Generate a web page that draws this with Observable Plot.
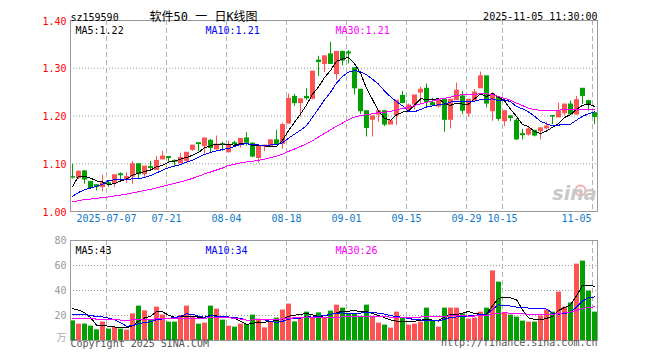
<!DOCTYPE html>
<html><head><meta charset="utf-8">
<script src="https://cdn.jsdelivr.net/npm/d3@7"></script>
<script src="https://cdn.jsdelivr.net/npm/@observablehq/plot@0.6"></script>
<style>
body{margin:0;background:#fff;}
#chart{width:660px;height:360px;overflow:hidden;background:#fff}
#chart svg{display:block}
</style></head><body><div id="chart"></div>
<script>
// ---- data ----
const symbol = "sz159590";
const title = "软件50 一 日K线图";
const stamp = "2025-11-05 11:30:00";
const tickIndex = [6, 16, 26, 36, 46, 56, 66, 72, 87];
const tickLabels = ["2025-07-07", "07-21", "08-04", "08-18", "09-01", "09-15", "09-29", "10-15", "11-05"];
const priceTicks = [1.0, 1.1, 1.2, 1.3, 1.4];
const volumeTicks = [20, 40, 60, 80];
const volumeUnit = "万";

const opens = [
1.072,1.070,1.084,1.062,1.055,1.051,1.059,1.059,1.078,1.066,
1.073,1.099,1.078,1.093,1.087,1.109,1.114,1.106,1.101,1.106,
1.129,1.143,1.137,1.148,1.130,1.141,1.124,1.143,1.139,1.153,
1.142,1.112,1.136,1.137,1.149,1.142,1.184,1.240,1.227,1.240,
1.236,1.316,1.309,1.329,1.288,1.334,1.333,1.300,1.255,1.210,
1.192,1.203,1.210,1.182,1.201,1.242,1.213,1.224,1.249,1.257,
1.227,1.220,1.234,1.192,1.233,1.241,1.205,1.232,1.258,1.283,
1.210,1.238,1.189,1.199,1.190,1.162,1.161,1.169,1.168,1.174,
1.200,1.197,1.206,1.224,1.203,1.257,1.231,1.206];
const closes = [
1.071,1.083,1.067,1.049,1.051,1.059,1.057,1.076,1.076,1.072,
1.099,1.078,1.094,1.091,1.106,1.115,1.112,1.104,1.112,1.123,
1.138,1.141,1.153,1.133,1.140,1.140,1.139,1.141,1.152,1.144,
1.115,1.137,1.138,1.149,1.141,1.181,1.236,1.227,1.235,1.237,
1.293,1.313,1.325,1.309,1.334,1.316,1.331,1.258,1.210,1.175,
1.199,1.210,1.182,1.189,1.232,1.227,1.222,1.243,1.255,1.229,
1.222,1.234,1.192,1.234,1.253,1.211,1.234,1.249,1.283,1.226,
1.245,1.194,1.210,1.196,1.151,1.160,1.172,1.159,1.174,1.178,
1.199,1.210,1.224,1.203,1.233,1.242,1.224,1.198];
const highs = [
1.099,1.086,1.085,1.062,1.056,1.076,1.064,1.076,1.081,1.081,
1.105,1.099,1.094,1.105,1.115,1.126,1.115,1.108,1.122,1.123,
1.138,1.143,1.153,1.151,1.158,1.145,1.147,1.147,1.153,1.165,
1.144,1.137,1.139,1.150,1.170,1.185,1.246,1.245,1.235,1.257,
1.293,1.325,1.325,1.354,1.334,1.336,1.337,1.300,1.255,1.210,
1.199,1.210,1.210,1.189,1.232,1.251,1.225,1.243,1.260,1.267,
1.237,1.234,1.234,1.234,1.269,1.251,1.234,1.255,1.292,1.283,
1.248,1.240,1.210,1.201,1.194,1.172,1.177,1.169,1.175,1.187,
1.201,1.227,1.224,1.231,1.241,1.257,1.233,1.206];
const lows = [
1.068,1.067,1.057,1.048,1.043,1.041,1.051,1.050,1.067,1.059,
1.057,1.069,1.071,1.085,1.087,1.109,1.103,1.094,1.101,1.102,
1.126,1.125,1.120,1.123,1.130,1.126,1.123,1.135,1.133,1.137,
1.113,1.101,1.125,1.136,1.141,1.130,1.184,1.220,1.198,1.233,
1.234,1.283,1.291,1.308,1.275,1.305,1.309,1.244,1.203,1.156,
1.156,1.187,1.178,1.182,1.180,1.226,1.210,1.213,1.225,1.217,
1.222,1.217,1.166,1.173,1.233,1.203,1.197,1.232,1.258,1.217,
1.189,1.189,1.178,1.188,1.149,1.150,1.158,1.156,1.150,1.171,
1.182,1.197,1.200,1.201,1.203,1.224,1.210,1.182];
const volumes = [
15.7,13.1,13.1,11.5,8.5,14.7,9.1,10.4,9.1,8.3,
21.3,27.5,23.7,16.3,26.7,20.3,14.7,14.7,20.0,27.5,
18.4,13.1,13.9,27.5,25.1,16.3,11.5,10.7,13.1,12.8,
20.3,17.1,10.1,15.2,17.9,24.3,29.1,14.9,17.9,22.7,
18.1,22.1,18.1,23.5,28.3,25.9,21.1,21.6,18.4,28.3,
18.4,13.9,12.3,9.9,22.7,18.4,12.3,13.1,14.7,25.9,
15.5,10.7,25.9,25.9,25.9,21.3,17.1,17.9,22.7,25.9,
55.7,46.7,21.6,20.3,18.7,15.5,14.7,14.7,19.5,24.3,
22.7,38.7,26.7,30.0,61.1,63.5,39.5,22.7];
// sessions before the first visible candle (estimated so the averages start where the picture shows)
const closesBefore = [
1.000,1.005,1.010,1.008,1.012,1.015,1.018,1.020,1.016,1.012,
1.010,1.014,1.018,1.022,1.020,1.016,1.012,1.015,1.018,1.019,
1.005,1.010,1.012,1.015,1.017,0.975,1.065,1.070,1.080];
const volumesBefore = [
12,14,16,18,20,17,15,14,13,15,
16,18,17,16,15,14,16,18,17,17,
14,16,17,18,17,19.6,22.7,31.4,38.6];

// ---- derived ----
const n = closes.length;
const RED = "#ff5252", GREEN = "#00a000";
const rows = closes.map((c, i) => ({i, open: opens[i], high: highs[i], low: lows[i], close: c, volume: volumes[i]}));
const col = d => d.close >= d.open ? RED : GREEN;
function movingAvg(before, values, w) {
  const all = before.concat(values), off = before.length;
  return values.map((_, i) => d3.mean(all.slice(off + i - w + 1, off + i + 1)));
}
const ma = {5: movingAvg(closesBefore, closes, 5), 10: movingAvg(closesBefore, closes, 10), 30: movingAvg(closesBefore, closes, 30)};
const vma = {5: movingAvg(volumesBefore, volumes, 5), 10: movingAvg(volumesBefore, volumes, 10), 30: movingAvg(volumesBefore, volumes, 30)};
const maColors = {5: "#000000", 10: "#0000ff", 30: "#ff00ff"};
const periods = [5, 10, 30];
const labelDx = {5: 5, 10: 135, 30: 265};

const FONT = "'DejaVu Sans Mono', monospace";
const xScale = {type: "linear", domain: [-1/3, n - 0.5], axis: null};
const common = {width: 660, marginLeft: 70, marginRight: 63, color: {type: "identity"},
  style: {fontFamily: FONT, fontSize: "10px", background: "#fff", overflow: "visible"}};
const gridX = Plot.ruleX(tickIndex, {dx: -2, stroke: "#b0b0b0", strokeDasharray: "5,3"});
const maLines = (arr) => periods.map(p => Plot.line(rows, {x: "i", y: d => arr[p][d.i], stroke: maColors[p], strokeWidth: 1, shapeRendering: "crispEdges"}));

const main = Plot.plot({
  ...common, height: 230, marginTop: 20, marginBottom: 19,
  x: xScale,
  y: {domain: [1.0, 1.4], axis: null},
  marks: [
    Plot.ruleY(priceTicks.slice(1, -1), {stroke: "#999", strokeDasharray: "1,2"}),
    gridX,
    Plot.ruleX(rows, {x: "i", y1: "low", y2: "high", stroke: col}),
    Plot.ruleX(rows, {x: "i", y1: d => Math.max(d.open, d.close), y2: d => Math.min(d.open, d.close), stroke: col, strokeWidth: 5, insetTop: -0.5, insetBottom: -0.5}),
    ...maLines(ma),
    Plot.frame({stroke: "#999"}),
    Plot.text(priceTicks, {y: d => d, text: d => d.toFixed(2), frameAnchor: "left", dx: -4, dy: 1, textAnchor: "end", fill: "#ff0000"}),
    Plot.text(tickIndex.slice(0, -1), {x: d => d, text: (d, k) => tickLabels[k], frameAnchor: "bottom", dx: -2, dy: 10, fill: "#0a78c8"}),
    Plot.text(tickIndex.slice(-1), {x: d => d, text: () => tickLabels[tickLabels.length - 1], frameAnchor: "bottom", dx: -3, dy: 10, textAnchor: "end", fill: "#0a78c8"}),
    ...periods.map(p => Plot.text([`MA${p}:${ma[p][n - 1].toFixed(2)}`], {frameAnchor: "top-left", dx: labelDx[p], dy: 6, textAnchor: "start", fill: maColors[p]})),
    Plot.text([symbol], {frameAnchor: "top-left", dy: -6.7, textAnchor: "start", fill: "#000"}),
    Plot.text([title], {frameAnchor: "top-left", dx: 79, dy: -8, textAnchor: "start", fill: "#000", fontSize: 12, fontFamily: "'DejaVu Sans Mono','Noto Sans CJK SC',monospace"}),
    Plot.text([stamp], {frameAnchor: "top-right", dy: -7.3, textAnchor: "end", fill: "#000"}),
    Plot.dot([0], {frameAnchor: "bottom-right", dx: -17, dy: -21, r: 5, stroke: "#f2b0b0", strokeWidth: 2, fill: "none"}),
    Plot.text(["sina"], {frameAnchor: "bottom-right", dx: -1, dy: -12, textAnchor: "end", fill: "#c8c8c8", fontSize: 19, fontStyle: "italic", fontWeight: "bold", fontFamily: "'DejaVu Sans', sans-serif"})
  ]
});

const vol = Plot.plot({
  ...common, height: 130, marginTop: 10, marginBottom: 20,
  x: xScale,
  y: {domain: [0, 80], axis: null},
  marks: [
    Plot.ruleY(volumeTicks.slice(0, -1), {stroke: "#999", strokeDasharray: "1,2"}),
    gridX,
    Plot.ruleX(rows, {x: "i", y1: 0, y2: "volume", stroke: col, strokeWidth: 5}),
    ...maLines(vma),
    Plot.frame({stroke: "#999"}),
    Plot.text(volumeTicks, {y: d => d, text: d => String(d), frameAnchor: "left", dx: -4, textAnchor: "end", fill: "#999"}),
    Plot.text([volumeUnit], {frameAnchor: "bottom-left", dx: -4, dy: 0, textAnchor: "end", fill: "#aaa", fontFamily: "'Noto Sans CJK SC', sans-serif"}),
    ...periods.map(p => Plot.text([`MA${p}:${Math.floor(vma[p][n - 1])}`], {frameAnchor: "top-left", dx: labelDx[p], dy: 6, textAnchor: "start", fill: maColors[p]})),
    Plot.text(["Copyright 2025 SINA.COM"], {frameAnchor: "bottom-left", dy: 6, textAnchor: "start", fill: "#555"}),
    Plot.text(["http://finance.sina.com.cn"], {frameAnchor: "bottom-right", dy: 5, textAnchor: "end", fill: "#555"})
  ]
});

const root = document.getElementById("chart");
root.append(main, vol);
</script></body></html>
